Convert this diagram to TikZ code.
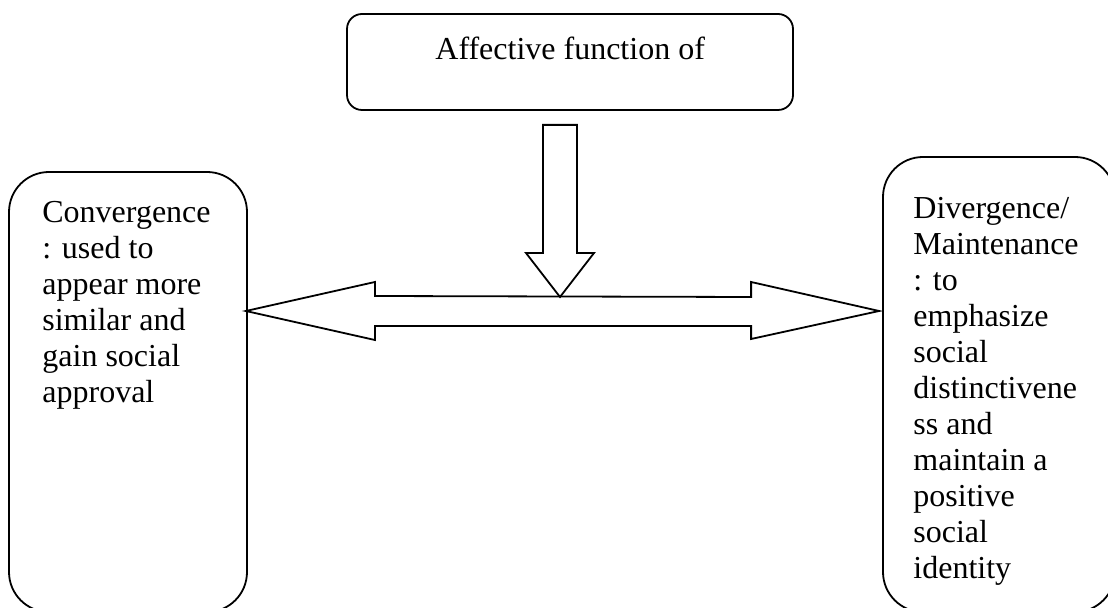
\documentclass[tikz,border=0pt]{standalone}
\usepackage{fontspec}
\setmainfont{Liberation Serif}
\usetikzlibrary{calc}

\tikzset{
  every picture/.style={x=0.5pt, y=-0.5pt},
  outline/.style={draw=black, line width=0.9pt, line join=miter},
  bigbox/.style={outline, rectangle, rounded corners=20pt, inner sep=0pt},
  headbox/.style={outline, rectangle, rounded corners=7.5pt, inner sep=0pt},
  label/.style={inner sep=0pt, font=\fontsize{16}{18}\selectfont, align=left},
  blockarrow/.style={outline, fill=white}
}

\begin{document}
\begin{tikzpicture}
  \useasboundingbox (0,0) rectangle (1108,608);
  \clip (0,0) rectangle (1108,608);

  % boxes
  \node[headbox, minimum width=223pt, minimum height=48pt] (T) at (570,62) {};
  \node[bigbox, minimum width=119pt, minimum height=220pt] (L) at (128,392) {};
  \node[bigbox, minimum width=116pt, minimum height=227.5pt] (R) at (999,384.5) {};

  % texts
  \node[label, anchor=base west] (Ttext) at (435,60) {Affective function of};
  \node[label, anchor=north west] (Ltext) at (42,198)
    {\rule{0pt}{12pt}Convergence\\: used to\\appear more\\similar and\\gain social\\approval};
  \node[label, anchor=north west] (Rtext) at (913,194)
    {\rule{0pt}{12pt}Divergence/\\Maintenance\\: to\\emphasize\\social\\distinctivene\\ss and\\maintain a\\positive\\social\\identity};

  % reference points for the block arrows
  \coordinate (mid) at (560,311);
  \coordinate (lt) at (L.east |- mid);
  \coordinate (rt) at (R.west |- mid);
  \coordinate (dtip) at ($(mid)+(0,-14)$);
  \coordinate (dtop) at ($(T.south -| dtip)+(0,14)$);

  % two-headed block arrow between the side boxes
  \draw[blockarrow] ($(lt)+(-2,0)$) -- ++(129,-29) -- ++(0,14)
    -- ($(rt)+(-131,-14)$) -- ++(0,-15) -- ($(rt)+(-3,0)$)
    -- ++(-128,28) -- ++(0,-13) -- ($(lt)+(127,15)$) -- ++(0,14) -- cycle;

  % block arrow from the top box down to the horizontal arrow
  \draw[blockarrow] ($(dtop)+(-17,0)$) -- ($(dtop)+(17,0)$)
    -- ($(dtip)+(17,-44)$) -- ($(dtip)+(34,-44)$) -- (dtip)
    -- ($(dtip)+(-34,-44)$) -- ($(dtip)+(-17,-44)$) -- cycle;
\end{tikzpicture}
\end{document}
